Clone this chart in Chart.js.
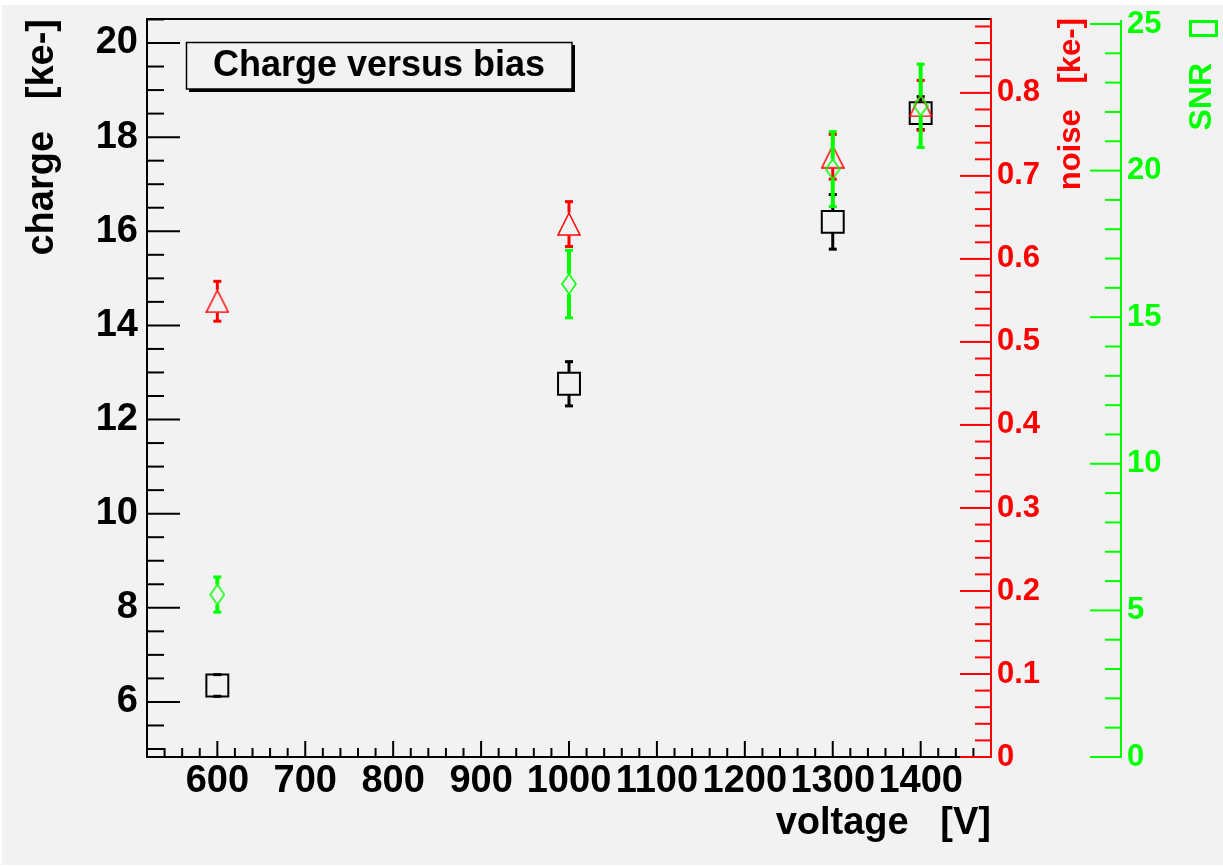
<!DOCTYPE html>
<html><head><meta charset="utf-8">
<script src="https://cdn.jsdelivr.net/npm/chart.js@4.4.0/dist/chart.umd.min.js"></script>
<style>html,body{margin:0;padding:0;background:#fff;} canvas{display:block;}</style>
</head><body>
<canvas id="c" width="1223" height="867"></canvas>
<script>
// ---- data ----
const voltages = [600, 1000, 1300, 1400];
const charge = [6.35, 12.76, 16.20, 18.51];
const chargeErr = [0.23, 0.47, 0.58, 0.35];
const noise = [0.549, 0.642, 0.723, 0.785];
const noiseErr = [0.024, 0.027, 0.027, 0.030];
const snr = [5.54, 16.13, 20.05, 22.21];
const snrErr = [0.60, 1.15, 1.28, 1.42];

// ---- ticks ----
const xTicks = [600, 700, 800, 900, 1000, 1100, 1200, 1300, 1400];
const xTickLabels = ['600', '700', '800', '900', '1000', '1100', '1200', '1300', '1400'];
const chargeTicks = [6, 8, 10, 12, 14, 16, 18, 20];
const chargeTickLabels = ['6', '8', '10', '12', '14', '16', '18', '20'];
const noiseTicks = [0, 0.1, 0.2, 0.3, 0.4, 0.5, 0.6, 0.7, 0.8];
const noiseTickLabels = ['0', '0.1', '0.2', '0.3', '0.4', '0.5', '0.6', '0.7', '0.8'];
const snrTicks = [0, 5, 10, 15, 20, 25];
const snrTickLabels = ['0', '5', '10', '15', '20', '25'];
const xRange = [520, 1480];
const chargeRange = [4.83, 20.51];
const noiseRange = [0, 0.889];
const snrRange = [0, 25.17];
const xMinorStep = 20, chargeMinorStep = 0.5, noiseMinorStep = 0.02, snrMinorStep = 1;

const titleText = 'Charge versus bias';
const xTitle = 'voltage   [V]';
const chargeTitle = 'charge   [ke-]';
const noiseTitle = 'noise   [ke-]';
const snrTitle = 'SNR';

const FONT = '"Liberation Sans", Arial, Helvetica, sans-serif';
const RED = '#ff0000', GREEN = '#00ff00', BLACK = '#000000';

// ---- marker images ----
function triangleMarker() {
  const c = document.createElement('canvas'); c.width = 24; c.height = 24;
  const g = c.getContext('2d');
  g.strokeStyle = RED; g.lineWidth = 1.5;
  g.beginPath(); g.moveTo(12, 1); g.lineTo(23, 23); g.lineTo(1, 23); g.closePath(); g.stroke();
  return c;
}
function diamondMarker() {
  const c = document.createElement('canvas'); c.width = 16; c.height = 22;
  const g = c.getContext('2d');
  g.strokeStyle = GREEN; g.lineWidth = 1.5;
  g.beginPath(); g.moveTo(8, 1); g.lineTo(15, 11); g.lineTo(8, 21); g.lineTo(1, 11); g.closePath(); g.stroke();
  return c;
}

const errorSets = [chargeErr, noiseErr, snrErr];
const errStyle = [
  {color: BLACK, width: 3, gap: 11.5},
  {color: RED, width: 3, gap: 11.5},
  {color: GREEN, width: 4, gap: 10}
];

function tickList(min, max, step) {
  const out = [];
  for (let i = Math.ceil(min / step - 1e-9); i <= Math.floor(max / step + 1e-9); i++) out.push(i * step);
  return out;
}
function isMajor(v, majors) { return majors.some(t => Math.abs(t - v) < 1e-6); }
function noPad(s) { s.paddingTop = 0; s.paddingBottom = 0; s.paddingLeft = 0; s.paddingRight = 0; }

const rootPlugin = {
  id: 'rootStyle',
  beforeDraw(chart) {
    const ctx = chart.ctx;
    ctx.save();
    ctx.fillStyle = '#ffffff'; ctx.fillRect(0, 0, chart.width, chart.height);
    ctx.fillStyle = '#f2f2f2'; ctx.fillRect(2, 5, chart.width - 2, 860);
    ctx.restore();
  },
  beforeDatasetsDraw(chart) {
    const {ctx, chartArea: a, scales} = chart;
    ctx.save();
    ctx.lineCap = 'butt';
    const line = (x1, y1, x2, y2, col, w) => {
      ctx.strokeStyle = col; ctx.lineWidth = w;
      ctx.beginPath(); ctx.moveTo(x1, y1); ctx.lineTo(x2, y2); ctx.stroke();
    };
    // frame
    line(a.left - 1, a.top, a.right, a.top, BLACK, 2);
    line(a.left, a.top, a.left, a.bottom + 1, BLACK, 2);
    line(a.left - 1, a.bottom, a.right, a.bottom, BLACK, 2);
    // x ticks
    const xs = scales.x;
    tickList(xRange[0], xRange[1], xMinorStep).forEach(v => {
      const px = xs.getPixelForValue(v);
      line(px, a.bottom, px, a.bottom - (isMajor(v, xTicks) ? 16 : 9), BLACK, 2);
    });
    // charge ticks
    const ys = scales.y;
    tickList(chargeRange[0], chargeRange[1], chargeMinorStep).forEach(v => {
      const py = ys.getPixelForValue(v);
      line(a.left, py, a.left + (isMajor(v, chargeTicks) ? 33 : 17), py, BLACK, 2);
    });
    // noise axis
    const ns = scales.yNoise;
    line(a.right, a.top - 1, a.right, a.bottom + 1, RED, 2);
    tickList(noiseRange[0], noiseRange[1], noiseMinorStep).forEach(v => {
      const py = ns.getPixelForValue(v);
      line(a.right, py, a.right - (isMajor(v, noiseTicks) ? 31 : 16), py, RED, 2);
    });
    // snr axis
    const ss = scales.ySnr;
    const gx = ss.left;
    line(gx, ss.getPixelForValue(snrRange[1]) + 1, gx, ss.getPixelForValue(0) + 1, GREEN, 2);
    tickList(snrRange[0], snrRange[1], snrMinorStep).forEach(v => {
      const py = ss.getPixelForValue(v);
      line(gx, py, gx - (isMajor(v, snrTicks) ? 31 : 16), py, GREEN, 2);
    });
    ctx.restore();
  },
  afterDatasetDraw(chart, args) {
    const i = args.index;
    const ds = chart.data.datasets[i];
    const errs = errorSets[i];
    const st = errStyle[i];
    const xs = chart.scales.x, ys = chart.scales[ds.yAxisID];
    const ctx = chart.ctx;
    ctx.save();
    ctx.strokeStyle = st.color; ctx.fillStyle = st.color; ctx.lineWidth = st.width;
    ds.data.forEach((p, k) => {
      const px = xs.getPixelForValue(p.x);
      const pc = ys.getPixelForValue(p.y);
      const pt = ys.getPixelForValue(p.y + errs[k]);
      const pb = ys.getPixelForValue(p.y - errs[k]);
      if (pc - st.gap > pt) { ctx.beginPath(); ctx.moveTo(px, pt); ctx.lineTo(px, pc - st.gap); ctx.stroke(); }
      if (pc + st.gap < pb) { ctx.beginPath(); ctx.moveTo(px, pc + st.gap); ctx.lineTo(px, pb); ctx.stroke(); }
      ctx.fillRect(px - 4, pt - 1.5, 8, 3);
      ctx.fillRect(px - 4, pb - 1.5, 8, 3);
    });
    ctx.restore();
  },
  afterDraw(chart) {
    const ctx = chart.ctx;
    ctx.save();
    // title pave
    ctx.fillStyle = BLACK;
    ctx.fillRect(189, 89, 386, 3);
    ctx.fillRect(572, 45, 3, 47);
    ctx.fillStyle = '#f2f2f2';
    ctx.fillRect(186, 42, 386, 47);
    ctx.strokeStyle = BLACK; ctx.lineWidth = 1.5;
    ctx.strokeRect(186.5, 42.5, 385.5, 46.5);
    ctx.fillStyle = BLACK;
    ctx.font = 'bold 36px ' + FONT;
    ctx.textAlign = 'center'; ctx.textBaseline = 'alphabetic';
    ctx.fillText(titleText, 379, 76);
    // noise axis title
    ctx.save();
    ctx.translate(1080, 18); ctx.rotate(-Math.PI / 2);
    ctx.fillStyle = RED; ctx.font = 'bold 31px ' + FONT;
    ctx.textAlign = 'right'; ctx.textBaseline = 'alphabetic';
    ctx.fillText(noiseTitle, 0, 0);
    ctx.restore();
    // snr axis title
    ctx.save();
    ctx.translate(1211, 63); ctx.rotate(-Math.PI / 2);
    ctx.fillStyle = GREEN; ctx.font = 'bold 32px ' + FONT;
    ctx.textAlign = 'right'; ctx.textBaseline = 'alphabetic';
    ctx.fillText(snrTitle, 0, 0);
    ctx.restore();
    ctx.strokeStyle = GREEN; ctx.lineWidth = 3;
    ctx.strokeRect(1190.5, 21.5, 26, 14);
    ctx.restore();
  }
};

const tickFont = {family: FONT, size: 38, weight: 'bold'};
const rightFont = {family: FONT, size: 31, weight: 'bold'};

new Chart(document.getElementById('c').getContext('2d'), {
  type: 'scatter',
  data: {
    datasets: [
      {label: 'charge', yAxisID: 'y', order: 3,
       data: voltages.map((v, i) => ({x: v, y: charge[i]})),
       pointStyle: 'rect', pointRadius: 15.5, borderColor: BLACK, backgroundColor: 'rgba(0,0,0,0)', borderWidth: 2},
      {label: 'noise', yAxisID: 'yNoise', order: 2,
       data: voltages.map((v, i) => ({x: v, y: noise[i]})),
       pointStyle: triangleMarker(), pointRadius: 10, borderColor: RED, backgroundColor: 'rgba(0,0,0,0)'},
      {label: 'SNR', yAxisID: 'ySnr', order: 1,
       data: voltages.map((v, i) => ({x: v, y: snr[i]})),
       pointStyle: diamondMarker(), pointRadius: 10, borderColor: GREEN, backgroundColor: 'rgba(0,0,0,0)'}
    ]
  },
  options: {
    responsive: false, animation: false, devicePixelRatio: 1, events: [],
    layout: {padding: {left: 0, top: 19, right: 2, bottom: 0}},
    plugins: {legend: {display: false}, tooltip: {enabled: false}, title: {display: false}},
    scales: {
      x: {
        type: 'linear', position: 'bottom', min: xRange[0], max: xRange[1],
        afterFit(s) { s.height = 110; noPad(s); },
        afterBuildTicks(s) { s.ticks = xTicks.map(v => ({value: v})); },
        grid: {display: false, drawTicks: false}, border: {display: false},
        ticks: {autoSkip: false, maxRotation: 0, minRotation: 0, padding: 2, color: BLACK, font: tickFont,
                callback: v => xTickLabels[xTicks.indexOf(v)]},
        title: {display: true, text: xTitle, align: 'end', color: BLACK,
                font: {family: FONT, size: 38, weight: 'bold', lineHeight: 1}, padding: {top: 0, bottom: 24}}
      },
      y: {
        type: 'linear', position: 'left', min: chargeRange[0], max: chargeRange[1],
        afterFit(s) { s.width = 147; noPad(s); },
        afterBuildTicks(s) { s.ticks = chargeTicks.map(v => ({value: v})); },
        grid: {display: false, drawTicks: false}, border: {display: false},
        ticks: {autoSkip: false, padding: 9, color: BLACK, font: tickFont,
                callback: v => chargeTickLabels[chargeTicks.indexOf(v)]},
        title: {display: true, text: chargeTitle, align: 'end', color: BLACK,
                font: {family: FONT, size: 38, weight: 'bold', lineHeight: 1}, padding: {top: 24, bottom: 0}}
      },
      yNoise: {
        type: 'linear', position: 'right', weight: 0, min: noiseRange[0], max: noiseRange[1],
        afterFit(s) { s.width = 130; noPad(s); },
        afterBuildTicks(s) { s.ticks = noiseTicks.map(v => ({value: v})); },
        grid: {display: false, drawTicks: false}, border: {display: false},
        ticks: {autoSkip: false, padding: 6, color: RED, font: rightFont,
                callback: v => noiseTickLabels[noiseTicks.findIndex(t => Math.abs(t - v) < 1e-9)]}
      },
      ySnr: {
        type: 'linear', position: 'right', weight: 1, min: snrRange[0], max: snrRange[1],
        afterFit(s) { s.width = 100; noPad(s); },
        afterBuildTicks(s) { s.ticks = snrTicks.map(v => ({value: v})); },
        grid: {display: false, drawTicks: false}, border: {display: false},
        ticks: {autoSkip: false, padding: 6, color: GREEN, font: rightFont,
                callback: v => snrTickLabels[snrTicks.indexOf(v)]}
      }
    }
  },
  plugins: [rootPlugin]
});
</script>
</body></html>
